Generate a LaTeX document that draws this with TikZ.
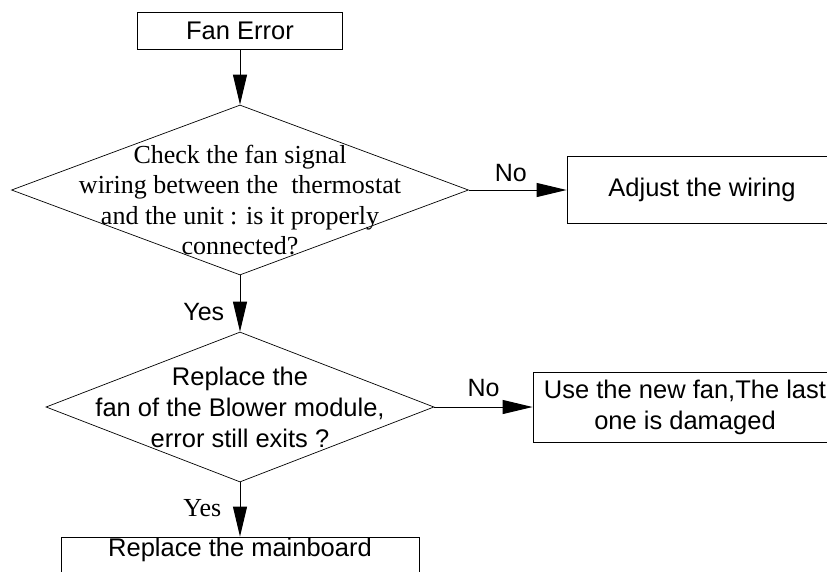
\documentclass[tikz,border=0pt]{standalone}
\usepackage{fontspec}
\setmainfont{Liberation Sans}
\newfontfamily\timesfont{Liberation Serif}
\usetikzlibrary{shapes.geometric,arrows.meta}

\begin{document}
\begin{tikzpicture}[x=1pt, y=-1pt, >={Triangle[length=30pt,width=14pt]},
        box/.style={draw, line width=0.8pt, inner sep=0pt},
        dec/.style={draw, diamond, line width=0.7pt, inner sep=0pt},
        txt/.style={align=center, font=\fontsize{25.5}{31}\selectfont},
        sertxt/.style={align=center, font=\timesfont\fontsize{26}{30.5}\selectfont},
        lbl/.style={font=\fontsize{25}{30}\selectfont},
        flow/.style={->, line width=1pt}]
        \useasboundingbox (0,0) rectangle (827,571);
        \clip (0,0) rectangle (827,571);

        % Start
        \node[box, minimum width=205pt, minimum height=37pt] (fanerr) at (240,30.5) {};
        \node[txt] (fanerrtxt) at (fanerr) {Fan Error};

        % First check
        \node[dec, minimum width=457pt, minimum height=170pt] (chkwire) at (240,190) {};
        \node[sertxt, yshift=-10pt] (chkwiretxt) at (chkwire) {Check the fan signal\\wiring between the~ thermostat\\and the unit : is it properly\\connected?};
        \node[box, minimum width=270pt, minimum height=67pt] (adjwire) at (702,190) {};
        \node[txt] (adjwiretxt) at (adjwire) {Adjust the wiring};

        % Second check
        \node[dec, minimum width=388pt, minimum height=150pt] (chkfan) at (240,407) {};
        \node[txt] (chkfantxt) at (chkfan) {Replace the\\fan of the Blower module,\\error still exits ?};
        \node[box, minimum width=304pt, minimum height=70pt] (newfan) at (685,407) {};
        \node[txt] (newfantxt) at (newfan) {Use the new fan,The last\\one is damaged};

        % End
        \node[box, minimum width=358pt, minimum height=50pt] (mainbd) at (240,562) {};
        \node[txt] (mainbdtxt) at (240,550) {Replace the mainboard};

        % Arrows
        \draw[flow] (fanerr) -- (chkwire);
        \draw[flow] (chkwire.east) -- node[lbl, above=4pt, pos=0.43] (no1) {No} (adjwire.west);
        \draw[flow] (chkwire.south) -- node[lbl, left=12pt, pos=0.65] (yes1) {Yes} (chkfan.north);
        \draw[flow] (chkfan.east) -- node[lbl, above=6pt, pos=0.5] (no2) {No} (newfan.west);
        \draw[flow] (chkfan.south) -- node[lbl, font=\timesfont\fontsize{26}{30}\selectfont, left=15pt, pos=0.48] (yes2) {Yes} (mainbd.north);
\end{tikzpicture}
\end{document}
